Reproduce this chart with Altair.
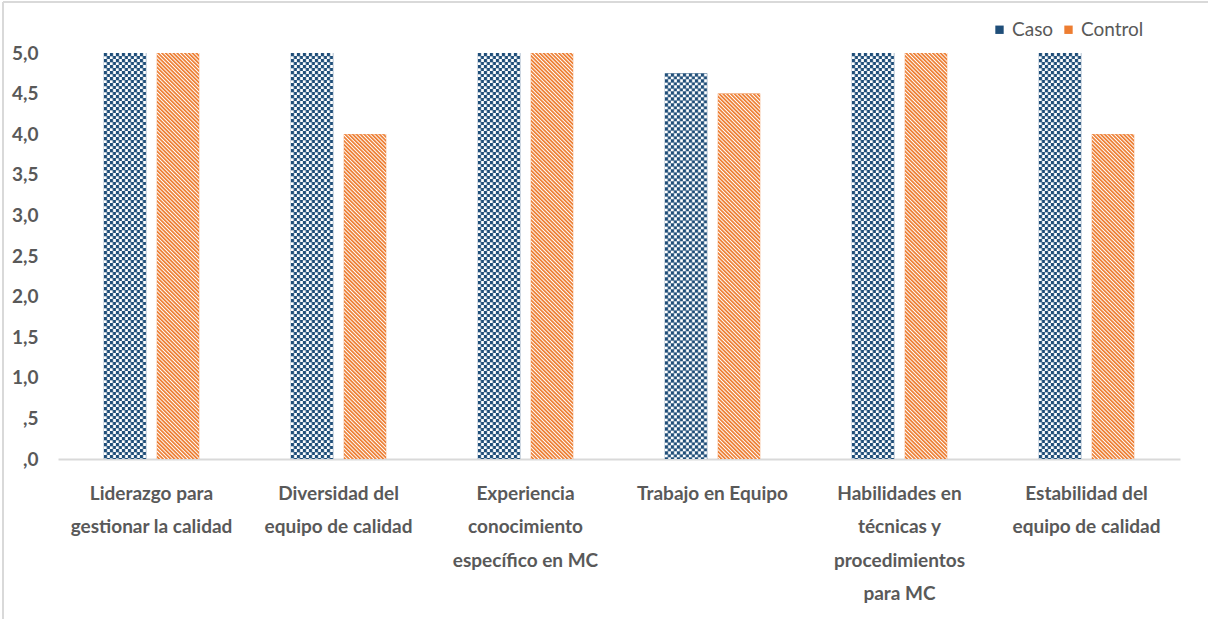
import altair as alt
import pandas as pd
from urllib.parse import quote

# ---- data ----
categories = [
    "Liderazgo para|gestionar la calidad",
    "Diversidad del|equipo de calidad",
    "Experiencia|conocimiento|específico en MC",
    "Trabajo en Equipo",
    "Habilidades en|técnicas y|procedimientos|para MC",
    "Estabilidad del|equipo de calidad",
]
series = ["Caso", "Control"]
caso = [5.0, 5.0, 5.0, 4.75, 5.0, 5.0]
control = [5.0, 4.0, 5.0, 4.5, 5.0, 4.0]
y_ticks = [0, 0.5, 1.0, 1.5, 2.0, 2.5, 3.0, 3.5, 4.0, 4.5, 5.0]

rows = []
for c, a, b in zip(categories, caso, control):
    rows.append({"categoria": c, "serie": "Caso", "valor": a})
    rows.append({"categoria": c, "serie": "Control", "valor": b})
df = pd.DataFrame(rows)

NAVY = "#1F4E79"
ORANGE = "#ED7D31"
GRAY = "#595959"
FONT = "Lato"

checker_svg = (
    '<svg xmlns="http://www.w3.org/2000/svg"><defs>'
    '<pattern id="p" width="6" height="6" patternUnits="userSpaceOnUse">'
    '<rect width="6" height="6" fill="#ffffff"/>'
    f'<rect width="3.3" height="3.3" fill="{NAVY}"/>'
    f'<rect x="3" y="3" width="3.3" height="3.3" fill="{NAVY}"/>'
    '</pattern></defs><rect width="100%" height="100%" fill="url(#p)"/></svg>'
)
stripe_svg = (
    '<svg xmlns="http://www.w3.org/2000/svg"><defs>'
    '<pattern id="s" width="2.7" height="2.7" patternUnits="userSpaceOnUse" patternTransform="rotate(-45)">'
    '<rect width="2.7" height="2.7" fill="#ffffff"/>'
    f'<rect width="1.7" height="2.7" fill="{ORANGE}"/>'
    '</pattern></defs><rect width="100%" height="100%" fill="url(#s)"/></svg>'
)
checker_uri = "data:image/svg+xml;charset=utf-8," + quote(checker_svg)
stripe_uri = "data:image/svg+xml;charset=utf-8," + quote(stripe_svg)

x_enc = alt.X(
    "categoria:N",
    sort=categories,
    scale=alt.Scale(paddingInner=0.49, paddingOuter=0.245),
    axis=alt.Axis(
        title=None,
        labelExpr="split(datum.label, '|')",
        labelAngle=0,
        labelFont=FONT,
        labelFontSize=19,
        labelFontWeight="bold",
        labelColor=GRAY,
        labelLineHeight=33.5,
        labelPadding=25,
        labelOverlap=False,
        labelBaseline="top",
        ticks=False,
        domainColor="#D9D9D9",
        domainWidth=2,
    ),
)
xoff_enc = alt.XOffset(
    "serie:N", sort=series, scale=alt.Scale(paddingInner=0.2, paddingOuter=0)
)
y_enc = alt.Y(
    "valor:Q",
    scale=alt.Scale(domain=[0, 5], nice=False),
    axis=alt.Axis(
        title=None,
        values=y_ticks,
        labelExpr="datum.value < 1 ? ',' + format(datum.value * 10, 'd') : replace(format(datum.value, '.1f'), '.', ',')",
        grid=False,
        domain=False,
        ticks=False,
        labelFont=FONT,
        labelFontSize=19,
        labelFontWeight="bold",
        labelColor=GRAY,
        labelPadding=20,
    ),
)

base = alt.Chart(df)

bars = base.mark_bar().encode(
    x=x_enc,
    xOffset=xoff_enc,
    y=y_enc,
    color=alt.Color(
        "serie:N",
        sort=series,
        scale=alt.Scale(domain=series, range=[NAVY, ORANGE]),
        legend=alt.Legend(
            title=None,
            orient="none",
            legendX=932,
            legendY=-33,
            direction="horizontal",
            symbolType="square",
            symbolSize=70,
            symbolStrokeWidth=0,
            labelFont=FONT,
            labelFontSize=19,
            labelColor=GRAY,
            columnPadding=5,
            labelOffset=3,
        ),
    ),
)

img_caso = (
    base.transform_filter(alt.datum.serie == "Caso")
    .mark_image(aspect=False)
    .encode(x=x_enc, xOffset=xoff_enc, y=y_enc, y2=alt.datum(0), url=alt.value(checker_uri))
)
img_control = (
    base.transform_filter(alt.datum.serie == "Control")
    .mark_image(aspect=False)
    .encode(x=x_enc, xOffset=xoff_enc, y=y_enc, y2=alt.datum(0), url=alt.value(stripe_uri))
)

frame_top = alt.Chart(df).mark_rule(color="#D9D9D9", strokeWidth=2).encode(
    x=alt.value(-55), x2=alt.value(1150), y=alt.value(-51)
)
frame_left = alt.Chart(df).mark_rule(color="#D9D9D9", strokeWidth=2).encode(
    x=alt.value(-55), y=alt.value(-51), y2=alt.value(566)
)

chart = (
    alt.layer(bars, img_caso, img_control, frame_top, frame_left)
    .properties(
        width=1122,
        height=406,
        padding={"left": 2, "top": 1, "right": 0, "bottom": 0},
        background="white",
    )
    .configure_view(stroke=None)
)

chart.save("out.html", embed_options={"renderer": "svg", "actions": False})
